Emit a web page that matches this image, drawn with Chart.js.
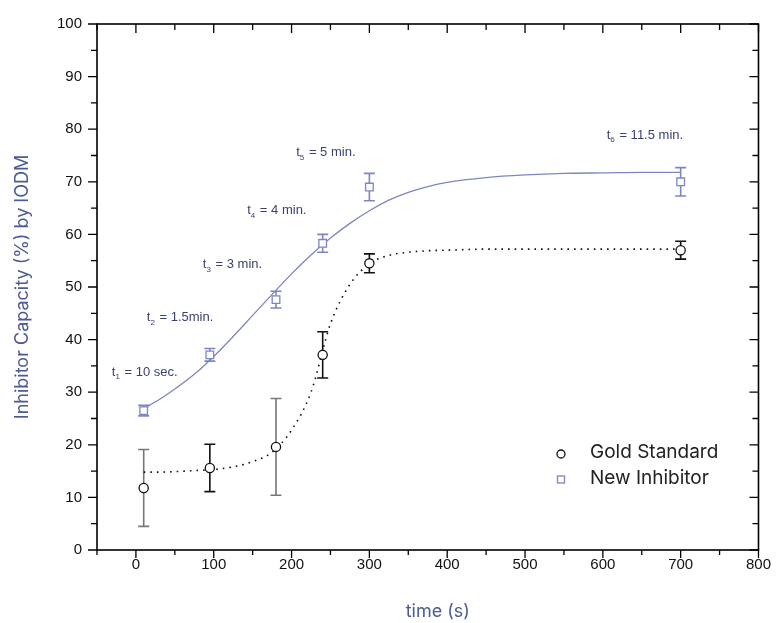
<!DOCTYPE html>
<html>
<head>
<meta charset="utf-8">
<title>Inhibitor Capacity</title>
<script src="https://cdn.jsdelivr.net/npm/chart.js@4.4.1/dist/chart.umd.min.js"></script>
<style>
    html, body { margin: 0; padding: 0; background: #fff; }
    #wrap { width: 777px; height: 623px; }
</style>
</head>
<body>
<div id="wrap"><canvas id="chart" width="777" height="623"></canvas></div>
<script>
// Measured points (time in s)
const timeValues = [10, 95, 180, 240, 300, 700];
const goldValues = [11.8, 15.6, 19.6, 37.1, 54.5, 57.0];
const goldErrors = [7.3, 4.5, 9.2, 4.4, 1.8, 1.7];
const goldErrorColors = ['#777777', '#111111', '#777777', '#111111', '#111111', '#111111'];
const inhibitorValues = [26.5, 37.1, 47.6, 58.3, 69.0, 70.0];
const inhibitorErrors = [1.0, 1.2, 1.6, 1.7, 2.6, 2.7];

// Fitted curves
const fitTime = [10, 30, 50, 75, 100, 125, 150, 175, 200, 225, 250, 275, 300, 325, 350, 375, 400, 450, 500, 550, 600, 650, 700];
const goldFit = [14.8, 14.8, 14.9, 15.1, 15.3, 15.8, 16.8, 18.6, 22.8, 30.0, 43.0, 50.5, 54.4, 56.0, 56.6, 56.9, 57.0, 57.2, 57.2, 57.2, 57.2, 57.2, 57.2];
const inhibitorFit = [26.9, 28.6, 30.6, 33.4, 36.8, 40.6, 44.6, 48.6, 52.5, 56.1, 59.3, 62.1, 64.5, 66.5, 68.0, 69.1, 69.9, 70.8, 71.3, 71.6, 71.7, 71.8, 71.8];

// Sampling-time labels: [main, subscript, rest, x, y]
const timeLabels = [
    ['t', '1', ' = 10 sec.', -31, 33.8],
    ['t', '2', ' = 1.5min.', 14, 44.2],
    ['t', '3', ' = 3 min.', 86, 54.3],
    ['t', '4', ' = 4 min.', 143, 64.5],
    ['t', '5', ' = 5 min.', 206, 75.6],
    ['t', '6', ' = 11.5 min.', 605, 78.9]
];

const xTicks = [0, 100, 200, 300, 400, 500, 600, 700, 800];
const yTicks = [0, 10, 20, 30, 40, 50, 60, 70, 80, 90, 100];

const colors = {
    blue: '#7c86c2',
    title: '#4c5a96',
    note: '#3b4270',
    black: '#111111'
};

const pts = (xs, ys) => xs.map((x, i) => ({ x: x, y: ys[i] }));

// Error bars, ticks, box and texts
const decorations = {
    id: 'decorations',
    beforeDatasetsDraw(chart) {
        const ctx = chart.ctx;
        const xs = chart.scales.x, ys = chart.scales.y;
        const cap = 5.5;
        function bars(vals, errs, cols) {
            vals.forEach((v, i) => {
                const px = xs.getPixelForValue(timeValues[i]);
                const top = ys.getPixelForValue(v + errs[i]);
                const bot = ys.getPixelForValue(v - errs[i]);
                ctx.strokeStyle = Array.isArray(cols) ? cols[i] : cols;
                ctx.lineWidth = 1.6;
                ctx.beginPath();
                ctx.moveTo(px, top); ctx.lineTo(px, bot);
                ctx.moveTo(px - cap, top); ctx.lineTo(px + cap, top);
                ctx.moveTo(px - cap, bot); ctx.lineTo(px + cap, bot);
                ctx.stroke();
            });
        }
        ctx.save();
        bars(goldValues, goldErrors, goldErrorColors);
        bars(inhibitorValues, inhibitorErrors, colors.blue);
        ctx.restore();
    },
    afterDraw(chart) {
        const ctx = chart.ctx;
        const a = chart.chartArea;
        const xs = chart.scales.x, ys = chart.scales.y;
        ctx.save();

        // frame
        ctx.strokeStyle = '#000';
        ctx.lineWidth = 1.6;
        ctx.strokeRect(a.left, a.top, a.right - a.left, a.bottom - a.top);

        // ticks: outward on left/bottom, inward on top/right
        ctx.lineWidth = 1.3;
        ctx.beginPath();
        for (let v = -50; v <= 800; v += 50) {
            const px = xs.getPixelForValue(v);
            const len = v % 100 === 0 ? 8 : 5;
            ctx.moveTo(px, a.bottom); ctx.lineTo(px, a.bottom + len);
            ctx.moveTo(px, a.top); ctx.lineTo(px, a.top + len + 1);
        }
        for (let v = 0; v <= 100; v += 5) {
            const py = ys.getPixelForValue(v);
            const len = v % 10 === 0 ? 9 : 6;
            ctx.moveTo(a.left, py); ctx.lineTo(a.left - len, py);
            ctx.moveTo(a.right, py); ctx.lineTo(a.right - len, py);
        }
        ctx.stroke();

        // sampling time annotations
        ctx.fillStyle = colors.note;
        ctx.textBaseline = 'middle';
        timeLabels.forEach(t => {
            let px = xs.getPixelForValue(t[3]);
            const py = ys.getPixelForValue(t[4]);
            ctx.font = '13px "Liberation Sans", Arial, sans-serif';
            ctx.fillText(t[0], px, py);
            px += ctx.measureText(t[0]).width;
            ctx.font = '8px "Liberation Sans", Arial, sans-serif';
            ctx.fillText(t[1], px, py + 5);
            px += ctx.measureText(t[1]).width + 1;
            ctx.font = '13px "Liberation Sans", Arial, sans-serif';
            ctx.fillText(t[2], px, py);
        });

        // legend
        const lx = a.left + 464, ly = a.top + 430;
        ctx.lineWidth = 1.3;
        ctx.strokeStyle = colors.black;
        ctx.fillStyle = '#fff';
        ctx.beginPath();
        ctx.arc(lx, ly, 4, 0, Math.PI * 2);
        ctx.fill(); ctx.stroke();
        ctx.strokeStyle = colors.blue;
        ctx.fillRect(lx - 3.5, ly + 22, 7, 7);
        ctx.strokeRect(lx - 3.5, ly + 22, 7, 7);
        ctx.fillStyle = '#222';
        ctx.font = '19px Inter, "Noto Sans", sans-serif';
        ctx.fillText('Gold Standard', lx + 29, ly - 2);
        ctx.fillText('New Inhibitor', lx + 29, ly + 24);

        // x axis title
        ctx.fillStyle = colors.title;
        ctx.textAlign = 'center';
        ctx.font = '18px Inter, "Noto Sans", sans-serif';
        ctx.fillText('time (s)', (a.left + a.right) / 2 + 10, 612);
        ctx.restore();
    }
};

new Chart(document.getElementById('chart'), {
    type: 'scatter',
    data: {
        datasets: [
            {
                label: 'Gold Standard',
                data: pts(timeValues, goldValues),
                pointStyle: 'circle',
                pointRadius: 4.6,
                pointBackgroundColor: '#fff',
                pointBorderColor: colors.black,
                pointBorderWidth: 1.3,
                order: 1
            },
            {
                label: 'New Inhibitor',
                data: pts(timeValues, inhibitorValues),
                pointStyle: 'rect',
                pointRadius: 5.4,
                pointBackgroundColor: '#fff',
                pointBorderColor: colors.blue,
                pointBorderWidth: 1.3,
                order: 1
            },
            {
                label: 'Gold fit',
                data: pts(fitTime, goldFit),
                showLine: true,
                borderColor: colors.black,
                borderWidth: 1.6,
                borderDash: [1.6, 5],
                pointRadius: 0,
                cubicInterpolationMode: 'monotone',
                order: 2
            },
            {
                label: 'Inhibitor fit',
                data: pts(fitTime, inhibitorFit),
                showLine: true,
                borderColor: colors.blue,
                borderWidth: 1.3,
                pointRadius: 0,
                cubicInterpolationMode: 'monotone',
                order: 2
            }
        ]
    },
    options: {
        responsive: false,
        animation: false,
        layout: { padding: { top: 24, right: 15, left: 0, bottom: 0 } },
        plugins: {
            legend: { display: false },
            tooltip: { enabled: false }
        },
        scales: {
            x: {
                type: 'linear',
                min: -50,
                max: 800,
                afterBuildTicks: scale => { scale.ticks = xTicks.map(v => ({ value: v })); },
                afterFit: scale => { scale.height = 73; },
                grid: { display: false, drawTicks: false },
                border: { display: false },
                ticks: {
                    padding: 6,
                    color: '#111',
                    font: { family: '"Liberation Sans", Arial, sans-serif', size: 15 }
                }
            },
            y: {
                type: 'linear',
                min: 0,
                max: 100,
                afterBuildTicks: scale => { scale.ticks = yTicks.map(v => ({ value: v })); },
                afterFit: scale => { scale.width = 97; },
                grid: { display: false, drawTicks: false },
                border: { display: false },
                ticks: {
                    padding: 15,
                    color: '#111',
                    font: { family: '"Liberation Sans", Arial, sans-serif', size: 15 }
                },
                title: {
                    display: true,
                    text: 'Inhibitor Capacity (%) by IODM',
                    color: colors.title,
                    font: { family: 'Inter, "Noto Sans", sans-serif', size: 18 },
                    padding: { top: 12 }
                }
            }
        }
    },
    plugins: [decorations]
});
</script>
</body>
</html>
